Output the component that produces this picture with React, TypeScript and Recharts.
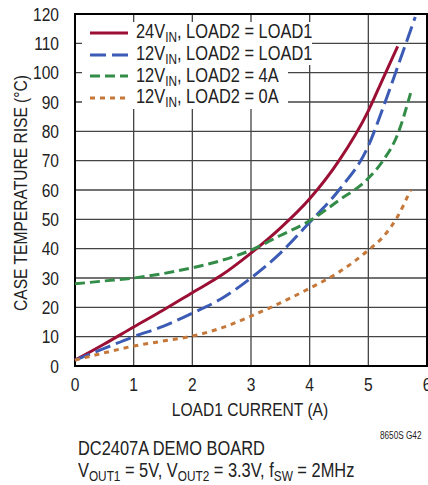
import React from "react";
import {
  LineChart,
  Line,
  XAxis,
  YAxis,
  CartesianGrid,
  ReferenceArea,
} from "recharts";

const FONT = "'Liberation Sans', Arial, sans-serif";
const SQUEEZE = 0.82; // reference uses a condensed face

const xTicks = [0, 1, 2, 3, 4, 5, 6];
const yTicks = [0, 10, 20, 30, 40, 50, 60, 70, 80, 90, 100, 110, 120];

// [load1 current (A), case temp rise (°C)]
const vin24Same = [
  [0, 2], [0.5, 7.5], [1, 13.3], [1.5, 19], [2, 25], [2.5, 31], [3, 38.5],
  [3.5, 47], [4, 57], [4.5, 70], [5, 87], [5.25, 98], [5.5, 109],
];
const vin12Same = [
  [0, 2], [0.5, 6], [1, 10], [1.5, 13.5], [2, 18], [2.5, 23], [3, 30],
  [3.5, 38.5], [4, 49], [4.5, 60], [5, 75], [5.25, 88], [5.5, 102], [5.8, 119],
];
const vin12Load4A = [
  [0, 28], [0.5, 29], [1, 30], [1.5, 31.5], [2, 33.5], [2.5, 36], [3, 39.5],
  [3.5, 44.5], [4, 49.5], [4.5, 56.5], [5, 64], [5.25, 70], [5.5, 79], [5.72, 93],
];
const vin12Load0A = [
  [0, 2], [0.5, 4.5], [1, 6.8], [1.5, 8.5], [2, 10.2], [2.5, 13], [3, 17],
  [3.5, 21.5], [4, 26.5], [4.5, 32], [5, 39.5], [5.25, 44], [5.5, 51], [5.72, 60],
];

const toRows = (pts: number[][]) => pts.map(([x, y]) => ({ x, y }));

const series = [
  { key: "a", data: vin24Same, color: "#9c0f35", dash: undefined, load: "LOAD2 = LOAD1", vin: "24V", bg: 230 },
  { key: "b", data: vin12Same, color: "#3b5bb5", dash: "16 6", load: "LOAD2 = LOAD1", vin: "12V", bg: 230 },
  { key: "c", data: vin12Load4A, color: "#338c47", dash: "10 5", load: "LOAD2 = 4A", vin: "12V", bg: 206 },
  { key: "d", data: vin12Load0A, color: "#c6783a", dash: "5 5", load: "LOAD2 = 0A", vin: "12V", bg: 206 },
];

const NarrowTick = (props: any) => {
  const { x, y, payload, textAnchor, axis } = props;
  return (
    <g transform={`translate(${x},${y}) scale(${SQUEEZE},1)`}>
      <text
        textAnchor={textAnchor}
        dy={axis === "x" ? "0.71em" : "0.355em"}
        fontSize={19}
        fontFamily={FONT}
        fill="#222"
      >
        {payload.value}
      </text>
    </g>
  );
};

const Narrow = ({ children, origin = "left" }: { children: React.ReactNode; origin?: string }) => (
  <span
    style={{
      display: "inline-block",
      transform: `scaleX(${SQUEEZE})`,
      transformOrigin: origin,
      whiteSpace: "nowrap",
    }}
  >
    {children}
  </span>
);

const subStyle = { fontSize: "0.72em", verticalAlign: "-0.3em" };

export default function App() {
  return (
    <div
      style={{
        position: "absolute",
        left: 0,
        top: 0,
        width: 428,
        height: 485,
        background: "#fff",
        fontFamily: FONT,
        color: "#222",
        overflow: "hidden",
      }}
    >
      <LineChart
        width={428}
        height={485}
        margin={{ top: 14, right: 1, bottom: 89, left: 0 }}
      >
        <CartesianGrid stroke="#444" strokeWidth={1.3} />
        <XAxis
          type="number"
          dataKey="x"
          domain={[0, 6]}
          ticks={xTicks}
          height={30}
          tickLine={false}
          axisLine={false}
          tickMargin={6}
          tick={<NarrowTick axis="x" />}
          interval={0}
        />
        <YAxis
          type="number"
          dataKey="y"
          domain={[0, 120]}
          ticks={yTicks}
          width={75}
          tickLine={false}
          axisLine={false}
          tickMargin={10}
          tick={<NarrowTick axis="y" />}
          interval={0}
        />
        <ReferenceArea
          x1={0}
          x2={6}
          y1={0}
          y2={120}
          fill="none"
          stroke="#000"
          strokeWidth={2}
          ifOverflow="visible"
        />
        {series.map((s) => (
          <Line
            key={s.key}
            data={toRows(s.data)}
            dataKey="y"
            type="monotone"
            stroke={s.color}
            strokeWidth={3}
            strokeDasharray={s.dash}
            dot={false}
            isAnimationActive={false}
          />
        ))}
      </LineChart>

      {/* legend */}
      <div style={{ position: "absolute", left: 82, top: 22 }}>
        {series.map((s) => (
          <div
            key={s.key}
            style={{
              display: "flex",
              alignItems: "center",
              height: 21.7,
              width: s.bg,
              background: "#fff",
              fontSize: 20,
              whiteSpace: "nowrap",
            }}
          >
            <svg width={54} height={10} style={{ flex: "none" }}>
              <line
                x1={8}
                x2={46}
                y1={5}
                y2={5}
                stroke={s.color}
                strokeWidth={3}
                strokeDasharray={s.dash}
              />
            </svg>
            <Narrow>
              {s.vin}
              <sub style={subStyle}>IN</sub>, {s.load}
            </Narrow>
          </div>
        ))}
      </div>

      {/* y axis title */}
      <div
        style={{
          position: "absolute",
          left: 21,
          top: 193,
          transform: `translate(-50%, -50%) rotate(-90deg) scaleX(${SQUEEZE})`,
          whiteSpace: "nowrap",
          fontSize: 19,
        }}
      >
        CASE TEMPERATURE RISE (°C)
      </div>

      {/* x axis title */}
      <div
        style={{
          position: "absolute",
          left: 250,
          top: 410,
          transform: `translate(-50%, -50%) scaleX(${SQUEEZE})`,
          whiteSpace: "nowrap",
          fontSize: 19,
        }}
      >
        LOAD1 CURRENT (A)
      </div>

      <div
        style={{
          position: "absolute",
          left: 380,
          top: 430,
          fontSize: 10,
          whiteSpace: "nowrap",
        }}
      >
        <Narrow>8650S G42</Narrow>
      </div>

      <div
        style={{
          position: "absolute",
          left: 78,
          top: 437,
          fontSize: 20,
          lineHeight: "22px",
          whiteSpace: "nowrap",
        }}
      >
        <div>
          <Narrow>DC2407A DEMO BOARD</Narrow>
        </div>
        <div>
          <Narrow>
            V<sub style={subStyle}>OUT1</sub> = 5V, V
            <sub style={subStyle}>OUT2</sub> = 3.3V, f
            <sub style={subStyle}>SW</sub> = 2MHz
          </Narrow>
        </div>
      </div>
    </div>
  );
}
